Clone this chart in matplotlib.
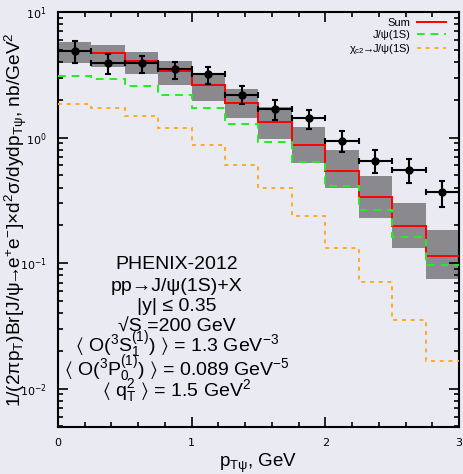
import numpy as np
import matplotlib
matplotlib.use('Agg')
import matplotlib.pyplot as plt
from matplotlib.ticker import MultipleLocator, LogLocator, NullFormatter

plt.rcParams['font.family'] = ['Liberation Sans', 'DejaVu Sans']
plt.rcParams['mathtext.fontset'] = 'custom'
plt.rcParams['mathtext.rm'] = 'Liberation Sans'
plt.rcParams['mathtext.it'] = 'Liberation Sans'
plt.rcParams['mathtext.fallback'] = 'stixsans'

# pT bins, GeV
edges = np.arange(0, 3.01, 0.25)

# PHENIX data points
data_y = [4.91, 3.92, 3.94, 3.51, 3.20, 2.20, 1.69, 1.42, 0.94, 0.656, 0.556, 0.367]
data_hi = [5.90, 4.62, 4.48, 4.03, 3.68, 2.57, 1.99, 1.66, 1.12, 0.79, 0.673, 0.454]
data_lo = [3.92, 3.20, 3.26, 2.94, 2.68, 1.85, 1.38, 1.17, 0.765, 0.52, 0.437, 0.278]

# theory curves
sum_y = [4.93, 4.70, 4.08, 3.40, 2.60, 1.90, 1.32, 0.875, 0.546, 0.337, 0.197, 0.114]
jpsi_y = [3.10, 2.94, 2.58, 2.18, 1.73, 1.29, 0.924, 0.637, 0.412, 0.264, 0.161, 0.0973]
chic2_y = [1.86, 1.73, 1.48, 1.19, 0.875, 0.606, 0.393, 0.236, 0.133, 0.0705, 0.0353, 0.0167]

# uncertainty band of the sum
band_hi = [5.75, 5.48, 4.79, 4.06, 3.22, 2.43, 1.75, 1.22, 0.798, 0.496, 0.303, 0.184]
band_lo = [3.92, 3.68, 3.18, 2.60, 1.97, 1.43, 0.97, 0.632, 0.393, 0.23, 0.133, 0.0753]

info_lines = [
    'PHENIX-2012',
    'pp→J/ψ(1S)+X',
    '|y| ≤ 0.35',
    '√S =200 GeV',
    r'$\langle$ O($^3$S$_1^{(1)}$) $\rangle$ = 1.3 GeV$^{-3}$',
    r'$\langle$ O($^3$P$_0^{(1)}$) $\rangle$ = 0.089 GeV$^{-5}$',
    r'$\langle$ q$_\mathrm{T}^2$ $\rangle$ = 1.5 GeV$^2$',
]
info_baselines = [269, 291, 311, 332, 352, 376, 396]  # pixels from the top

bg = '#eaeaf2'
W, H = 464, 474
fig = plt.figure(figsize=(W / 100, H / 100), dpi=100, facecolor=bg)
ax = fig.add_axes([58 / W, 1 - 427 / H, 401 / W, 415 / H], facecolor=bg)

centers = 0.5 * (edges[:-1] + edges[1:])
width = edges[1] - edges[0]
ax.bar(centers, np.array(band_hi) - np.array(band_lo), width=width, bottom=band_lo,
       color='#8a898e', linewidth=0, zorder=1)

ax.stairs(sum_y, edges, baseline=None, color='red', lw=1.4, label='Sum', zorder=3)
ax.stairs(jpsi_y, edges, baseline=None, color='#22ee22', lw=1.4, ls=(0, (4, 3)),
          label='J/ψ(1S)', zorder=3)
ax.stairs(chic2_y, edges, baseline=None, color='#ffaa22', lw=1.4, ls=(0, (2, 2.5)),
          label=r'$\chi_{c2}\!\!\rightarrow\!\!$J/ψ(1S)', zorder=3)

data_y = np.array(data_y)
yerr = [data_y - np.array(data_lo), np.array(data_hi) - data_y]
ax.errorbar(centers, data_y, xerr=width / 2, yerr=yerr, fmt='o', color='black',
            ms=5, elinewidth=1.5, capsize=2.5, capthick=1.5, zorder=4)

ax.set_yscale('log')
ax.set_xlim(0, 3)
ax.set_ylim(0.00495, 10)

ax.xaxis.set_major_locator(MultipleLocator(1))
ax.xaxis.set_minor_locator(MultipleLocator(0.2))
ax.yaxis.set_major_locator(LogLocator(base=10))
ax.yaxis.set_minor_locator(LogLocator(base=10, subs=np.arange(2, 10)))
ax.yaxis.set_minor_formatter(NullFormatter())
ax.tick_params(which='both', direction='in', top=True, right=True, width=1.2,
               labelsize=8, labelfontfamily='DejaVu Sans')
ax.tick_params(which='major', length=7, pad=8)
ax.tick_params(which='minor', length=3.5)
for s in ax.spines.values():
    s.set_linewidth(1.5)

ax.set_xlabel(r'p$_{\mathrm{T\psi}}$, GeV', fontsize=13.5)
ax.xaxis.set_label_coords(0.5, -0.06)
ax.set_ylabel(r'1/(2πp$_\mathrm{T}$)Br[J/ψ$\!\!\rightarrow\!\!$e$^{+}$e$^{-}$]×d$^2$σ/dydp$_{\mathrm{T\psi}}$, nb/GeV$^2$',
              fontsize=13.8)
ax.yaxis.set_label_coords(-0.072, 0.5)

for line, yb in zip(info_lines, info_baselines):
    fig.text(177 / W, 1 - yb / H, line, fontsize=14, ha='center', va='baseline', zorder=5)

ax.legend(loc='upper right', bbox_to_anchor=(0.976, 0.993), frameon=False,
          markerfirst=False, fontsize=8, handlelength=2.6, handletextpad=0.6,
          labelspacing=0.15, borderaxespad=0, borderpad=0.3)

fig.savefig('out.png', dpi=100, facecolor=bg)
